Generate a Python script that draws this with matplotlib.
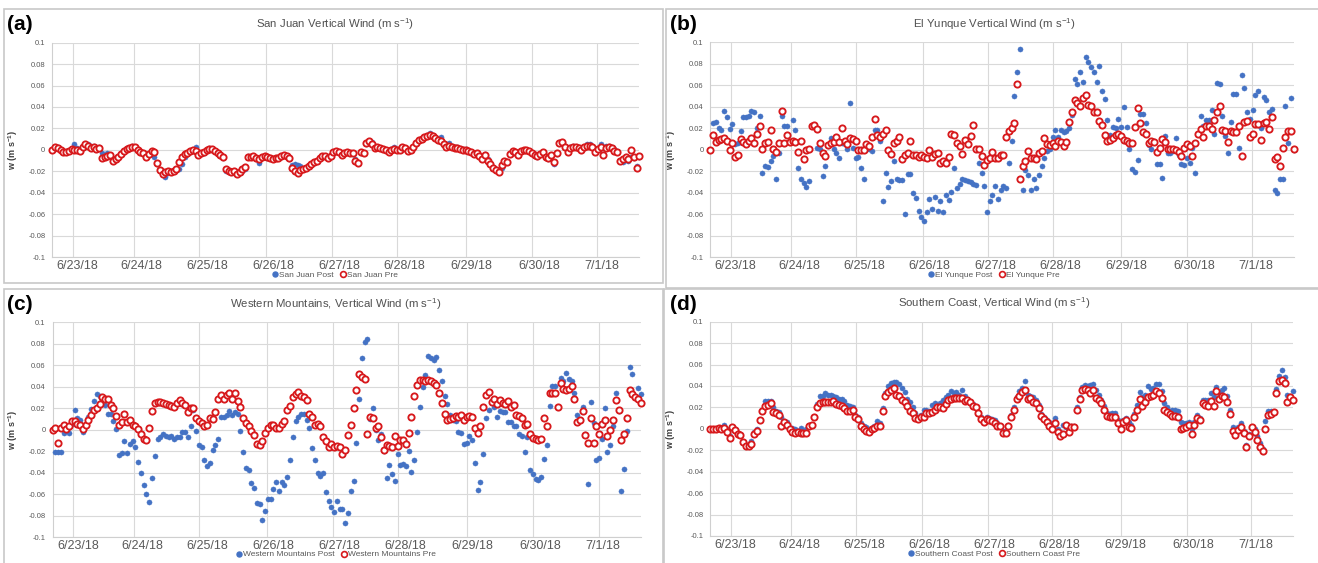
import numpy as np
import matplotlib
matplotlib.use('Agg')
import matplotlib.pyplot as plt
from matplotlib.patches import Rectangle
from matplotlib.lines import Line2D

plt.rcParams['font.family'] = ['Liberation Sans', 'DejaVu Sans']
plt.rcParams['mathtext.fontset'] = 'custom'
plt.rcParams['mathtext.rm'] = 'Liberation Sans'

W, H = 1318, 563

# hourly samples from 6/22/18 evening, values in mm/s (0.001 m/s)
date_labels = ['6/23/18', '6/24/18', '6/25/18', '6/26/18', '6/27/18',
               '6/28/18', '6/29/18', '6/30/18', '7/1/18']
day_start = [7.4, 29.5, 53.1, 77.5, 101.4, 125.0, 150.0, 174.2, 197.8]
label_at = [9.2, 32.4, 56.1, 80.1, 104.0, 127.6, 151.9, 176.6, 199.3]
y_ticks = [-0.1, -0.08, -0.06, -0.04, -0.02, 0, 0.02, 0.04, 0.06, 0.08, 0.1]
y_labels = ['-0.1', '-0.08', '-0.06', '-0.04', '-0.02', '0',
            '0.02', '0.04', '0.06', '0.08', '0.1']

san_juan_post = [
    0, 2, 3, 0, -1, -2, 0, 2,
    5, 2, 0, 2, 5, 5, 4, 4, 3, 3, -3, -5, -3, -5, -9, -8, -6, -3, 0, 2, 1, 4,
    3, 0, -2, -3, -6, -4, -1, -7, -13, -20, -22, -25, -22, -21, -20, -19, -18, -13, -7, -4, -2, 0, 3, -4,
    -4, -3, 0, 2, 1, -1, -4, -6, -8, -20, -21, -20, -22, -21, -22, -20, -18, -6, -7, -6, -9, -12, -8, -7,
    -8, -8, -9, -8, -8, -7, -5, -6, -9, -14, -13, -14, -15, -18, -17, -15, -13, -12, -10, -8, -7, -6, -8, -6,
    -3, -1, -2, -4, -3, -2, -3, -3, -9, -12, -3, -3, 5, 7, 7, 3, 3, 2, 1, 0, -1, 1, 3, 1,
    1, 3, 2, 0, 0, 3, 6, 9, 10, 12, 14, 16, 14, 12, 10, 12, 6, 4, 6, 4, 3, 3, 1, 1,
    1, -1, -2, -3, -3, -5, -7, -4, -9, -12, -16, -18, -20, -17, -12, -10, -4, -1, -2, -4, -1, 0, 0, -1,
    -3, -6, -7, -4, -3, -8, -9, -6, -13, -4, 7, 7, 4, -2, 3, 4, 3, 3, 1, 3, 5, 5, 4, -1,
    2, 5, -4, 4, 4, 3, 1, -1, -10, -11, -8, -10, -7, -8, -15, -7]
san_juan_pre = [
    0, 3, 2, 0, -2, -2, -1, 1,
    0, 0, -1, 3, 5, 4, 2, 3, 1, 2, -8, -7, -6, -5, -10, -9, -7, -4, -1, 1, 2, 3,
    3, 0, -2, -3, -7, -4, -1, -2, -12, -19, -23, -21, -20, -21, -20, -18, -11, -7, -4, -3, -1, 0, -1, -5,
    -3, -2, 0, 1, 1, -1, -3, -5, -7, -18, -20, -21, -20, -23, -21, -18, -16, -7, -7, -6, -8, -9, -7, -6,
    -7, -8, -9, -8, -8, -6, -5, -6, -8, -17, -20, -22, -19, -18, -17, -15, -13, -11, -10, -8, -6, -6, -8, -6,
    -2, -1, -2, -5, -3, -2, -3, -3, -10, -12, -2, -3, 6, 8, 5, 2, 3, 2, 1, 0, -2, 0, 1, 0,
    0, 3, 2, -1, 0, 3, 6, 9, 10, 12, 13, 14, 13, 11, 9, 8, 5, 3, 4, 3, 2, 2, 1, 0,
    0, -1, -2, -4, -3, -6, -9, -5, -10, -13, -17, -19, -21, -14, -10, -11, -4, -1, -2, -5, -1, 0, 0, -1,
    -3, -5, -6, -4, -2, -7, -8, -5, -11, -3, 6, 7, 3, -2, 2, 3, 3, 2, 0, 3, 4, 4, 3, -2,
    1, 3, -5, 2, 3, 2, -1, -2, -10, -9, -7, -9, 0, -7, -17, -6]

el_yunque_post = [
    0, 25, 26, 20, 18, 36, 30, 19, 24, 5,
    6, 17, 30, 30, 31, 36, 35, 20, 31, -22,
    -15, -16, -11, -6, -27, -3, 31, 22, 22, 8,
    28, 18, -17, -27, -31, -35, -29, 22, 22, 2,
    1, -25, -15, 3, 11, 1, -3, -8, 6, 5,
    1, 43, 2, -8, -7, -17, -27, 1, 1, -1,
    18, 18, 8, -48, -22, -35, -29, -11, -27, -28,
    -28, -60, -23, -23, -40, -45, -57, -63, -66, -58,
    -46, -55, -44, -57, -48, -58, -42, -47, -39, -17,
    -36, -32, -27, -28, -29, -30, -32, -33, -12, -22,
    -34, -58, -48, -42, -34, -46, -38, -34, -36, -12,
    8, 50, 72, 94, -38, -19, -24, -38, -27, -36,
    -24, -15, -8, -1, 1, 12, 18, 12, 18, 16,
    17, 20, 32, 66, 61, 72, 63, 86, 82, 77,
    72, 63, 78, 55, 47, 28, 14, 21, 20, 29,
    21, 40, 21, 1, -18, -21, -10, 33, 33, 25,
    4, 1, 8, -13, -13, -26, 13, -3, -3, -1,
    11, -5, -13, -14, -8, -12, 2, -22, 15, 31,
    22, 28, 28, 37, 15, 62, 61, 31, 13, -3,
    26, 52, 52, 2, 70, 57, 35, 29, 37, 51,
    55, 20, 49, 46, 35, 38, -38, -40, -27, -27,
    41, 6, 48, 0]
el_yunque_pre = [
    0, 14, 7, 9, 10, 11, 8, 0, 6, -7,
    -5, 10, 7, 5, 8, 11, 6, 15, 22, 1,
    6, 7, 18, 1, -2, 6, 36, 6, 14, 7,
    8, 7, -2, 8, -9, 0, 1, 22, 23, 19,
    6, -3, -6, 4, 6, 7, 12, 7, 20, 8,
    5, 11, 10, 8, 0, 0, 0, 5, 3, 12,
    29, 14, 12, 15, 18, 0, -4, 6, 8, 12,
    -9, -5, -3, 8, -5, -5, -7, -5, -7, -8,
    0, -7, -4, -3, -12, -11, -12, -7, 15, 14,
    6, 3, -4, 9, 5, 13, 23, 1, 1, -6,
    -14, -10, -8, -2, -8, -8, -5, -5, 12, 17,
    20, 25, 61, -27, -15, -11, -1, -8, -8, -9,
    -3, -1, 11, 5, 4, 6, 3, 8, 7, 3,
    7, 26, 35, 46, 43, 41, 48, 51, 42, 41,
    35, 35, 27, 23, 14, 8, 9, 11, 14, 15,
    13, 9, 8, 6, 6, 21, 39, 25, 16, 15,
    6, 8, 7, -2, 2, 10, 7, 1, 1, 1,
    0, -2, -6, 2, 5, 3, -6, 6, 15, 19,
    12, 22, 22, 19, 28, 35, 41, 18, 17, 7,
    17, 16, 16, 22, -6, 26, 27, 12, 15, 24,
    24, 9, 25, 26, 19, 30, -9, -7, -15, 2,
    12, 17, 17, 1]

western_post = [
    0, -21, -21, -21, -3, 1, -3, 5, 18, 11,
    9, -2, 3, 12, 19, 27, 33, 31, 28, 23,
    15, 15, 8, 1, -24, -22, -11, -22, -13, -11,
    -16, -30, -40, -52, -60, -67, -45, -25, -9, -7,
    -4, -6, -7, -6, -9, -7, -7, -2, -2, -7,
    3, 18, -1, -14, -16, -28, -34, -31, -19, -14,
    -9, 12, 12, 14, 17, 14, 16, 15, -1, -21,
    -36, -38, -50, -54, -68, -69, -84, -76, -65, -65,
    -55, -49, -57, -49, -52, -44, -28, -7, 8, 12,
    15, 15, 9, 2, -17, -28, -40, -43, -40, -58,
    -66, -72, -77, -66, -74, -74, -87, -78, -57, -48,
    -12, 29, 67, 82, 84, 10, 20, 0, -10, -4,
    -20, -45, -33, -41, -48, -23, -33, -32, -34, -20,
    -39, -28, -2, 21, 40, 51, 69, 67, 65, 68,
    56, 45, 31, 24, 14, 9, 8, -2, -3, -13,
    -12, -6, -10, -31, -56, -49, -23, 11, 18, 25,
    21, 12, 17, 16, 16, 7, 7, 3, 3, -4,
    -6, -21, -7, -38, -41, -46, -47, -44, -27, -14,
    22, 41, 41, 21, 48, 45, 53, 47, 45, 34,
    14, 9, 21, -4, -51, 26, 6, -28, -26, -9,
    20, -21, -14, 3, 34, 17, -57, -37, -1, 58,
    52, 30, 39, 33]
western_pre = [
    0, 2, -12, 2, 4, 1, 3, 8, 8, 5,
    4, 1, 4, 9, 14, 18, 20, 24, 30, 29,
    29, 23, 20, 13, 4, 7, 15, 7, 9, 4,
    3, 1, -4, -9, -10, 2, 17, 25, 26, 26,
    25, 24, 23, 22, 21, 25, 28, 25, 23, 16,
    20, 20, 11, 8, 6, 3, 4, 11, 10, 16,
    29, 32, 29, 32, 34, 29, 34, 27, 21, 11,
    6, 3, -1, -5, -13, -14, -11, -3, 2, 4,
    4, 2, 2, 5, 8, 18, 22, 30, 33, 35,
    31, 30, 28, 15, 12, 4, 5, 3, -7, -11,
    -16, -13, -16, -15, -16, -23, -19, -5, 4, 20,
    37, 52, 49, 47, -4, 12, 11, 2, 3, -7,
    -19, -14, -15, -16, -6, -15, -10, -10, -13, -3,
    12, 31, 42, 46, 46, 45, 46, 45, 43, 42,
    34, 25, 15, 9, 10, 11, 13, 12, 14, 9,
    12, 13, 12, 2, -3, 3, 21, 32, 35, 26,
    29, 24, 28, 25, 24, 27, 21, 23, 14, 13,
    11, 4, 5, -4, -8, -9, -10, -9, 11, 3,
    34, 34, 34, 21, 43, 38, 37, 38, 41, 29,
    7, 9, 17, -5, -12, 11, -12, 3, -4, 5,
    9, -6, 0, 9, 28, 18, -10, -4, 11, 37,
    33, 30, 29, 25]

southern_post = [
    0, 0, 0, 1, 0, 4, 0, -7, 2, 0, -4,
    -5, -12, -15, -15, -11, -3, 0, 8, 18, 26,
    26, 26, 20, 17, 16, 11, 7, 6, 1, 1,
    0, -2, 1, -2, 0, 4, 4, 11, 23, 31,
    31, 33, 32, 32, 31, 30, 28, 28, 26, 22,
    21, 20, 13, 11, 5, 3, 2, 0, 1, 3,
    7, 5, 19, 33, 40, 43, 44, 44, 42, 38,
    34, 28, 25, 20, 15, 11, 13, 18, 18, 17,
    22, 24, 22, 24, 27, 30, 32, 35, 33, 34,
    32, 36, 31, 28, 26, 23, 20, 16, 11, 8,
    11, 10, 9, 8, 5, 2, -2, -2, 4, 13,
    20, 30, 35, 38, 45, 32, 31, 30, 27, 22,
    14, 11, 8, 6, 3, 10, 0, -3, 4, 2,
    1, 3, 3, 20, 30, 39, 41, 40, 41, 42,
    36, 32, 27, 21, 15, 14, 15, 15, 8, 4,
    8, 10, 6, 4, 14, 22, 34, 30, 32, 40,
    37, 38, 42, 42, 35, 24, 20, 17, 18, 18,
    17, 6, 5, 5, 6, 0, 6, 13, 10, 27,
    27, 27, 33, 30, 39, 33, 36, 38, 31, 18,
    2, -3, 2, 5, -2, -15, -5, 2, 0, -7,
    -13, -19, 7, 17, 17, 16, 37, 49, 55, 48,
    32, 31, 35]
southern_pre = [
    0, 0, 0, 1, 0, 1, -3, -9, 2, -1, -5,
    -6, -12, -16, -16, -14, -5, -2, 8, 17, 21,
    22, 24, 16, 15, 13, 3, 6, 4, 0, -3,
    -4, -3, -4, -4, -4, 3, 4, 11, 20, 24,
    25, 25, 25, 25, 26, 23, 22, 21, 19, 17,
    17, 18, 11, 9, 3, 0, -2, -3, 0, 1,
    3, 3, 17, 31, 34, 36, 38, 32, 31, 27,
    25, 21, 17, 15, 10, 9, 11, 11, 15, 15,
    16, 18, 20, 20, 19, 23, 27, 28, 29, 29,
    29, 29, 26, 27, 25, 21, 20, 15, 9, 6,
    9, 8, 7, 5, 3, 3, -4, -4, 3, 11,
    18, 28, 31, 34, 36, 28, 29, 25, 24, 19,
    12, 9, 6, 3, 0, 5, -3, -7, -5, 4,
    -3, 2, 2, 18, 28, 36, 37, 36, 33, 36,
    29, 27, 24, 18, 12, 11, 11, 11, 5, 0,
    6, 8, 2, 1, 11, 18, 28, 21, 25, 30,
    31, 32, 35, 33, 29, 18, 16, 14, 12, 12,
    11, 0, 1, 2, 4, -5, 4, 10, 8, 24,
    22, 21, 26, 21, 35, 28, 31, 30, 25, 14,
    -2, -6, -1, 2, -4, -17, -7, 2, -3, -10,
    -17, -21, 0, 13, 14, 16, 33, 45, 46, 43,
    25, 30, 27]

BLUE = '#4472C4'
RED = '#D7191C'
GRID = '#D9D9D9'
TXT = '#595959'


def fig_box(l, t, r, b):
    return [l / W, 1 - b / H, (r - l) / W, (b - t) / H]


panels = [
    dict(post=san_juan_post, pre=san_juan_pre, name='San Juan',
         title='San Juan Vertical Wind (m s$^{\\mathregular{-1}}$)', tag='(a)',
         ax=(52.3, 42.7, 639.3, 257.0), cx=335, ty=24.5, ly=275, tagxy=(7, 24.5),
         box=(4, 9, 663, 283)),
    dict(post=el_yunque_post, pre=el_yunque_pre, name='El Yunque',
         title='El Yunque Vertical Wind (m s$^{\\mathregular{-1}}$)', tag='(b)',
         ax=(710.4, 42.3, 1293.7, 257.0), cx=994, ty=24.5, ly=275, tagxy=(670, 24),
         box=(666, 9, 1322, 288)),
    dict(post=western_post, pre=western_pre, name='Western Mountains',
         title='Western Mountains, Vertical Wind (m s$^{\\mathregular{-1}}$)', tag='(c)',
         ax=(52.6, 322.3, 640.6, 537.0), cx=336, ty=304, ly=554.5, tagxy=(7, 304),
         box=(4, 289, 663, 567)),
    dict(post=southern_post, pre=southern_pre, name='Southern Coast',
         title='Southern Coast, Vertical Wind (m s$^{\\mathregular{-1}}$)', tag='(d)',
         ax=(710.4, 321.7, 1292.8, 536.0), cx=994, ty=303.5, ly=554, tagxy=(670, 304),
         box=(664, 289, 1322, 567)),
]

fig = plt.figure(figsize=(W / 100, H / 100), dpi=100)
fig.patch.set_facecolor('white')

for p in panels:
    l, t, r, b = p['box']
    fig.add_artist(Rectangle((l / W, 1 - b / H), (r - l) / W, (b - t) / H,
                             transform=fig.transFigure, fill=False,
                             edgecolor='#C8C8C8', linewidth=1.2))

    ax = fig.add_axes(fig_box(*p['ax']))
    post = np.array(p['post']) / 1000.0
    pre = np.array(p['pre']) / 1000.0
    ax.plot(np.arange(len(post)), post, 'o', ms=3.7, color=BLUE, mec=BLUE,
            mew=0.3, clip_on=False, zorder=3)
    ax.plot(np.arange(len(pre)), pre, 'o', ms=4.5, mfc='white', mec=RED,
            mew=1.35, clip_on=False, zorder=4)

    ax.set_xlim(0, 213)
    ax.set_ylim(-0.1, 0.1)
    ax.set_yticks(y_ticks)
    ax.set_yticklabels(y_labels)
    ax.set_xticks(day_start)
    ax.set_xticklabels([''] * len(day_start))
    ax.set_xticks(label_at, minor=True)
    ax.set_xticklabels(date_labels, minor=True)
    ax.tick_params(axis='both', which='both', length=0)
    ax.tick_params(axis='y', labelsize=5.5, labelcolor=TXT, pad=5)
    ax.tick_params(axis='x', which='minor', labelsize=9, labelcolor=TXT, pad=2)
    ax.grid(True, which='major', color=GRID, linewidth=0.8)
    ax.set_axisbelow(True)
    for s in ['top', 'right']:
        ax.spines[s].set_visible(False)
    for s in ['left', 'bottom']:
        ax.spines[s].set_color('#CFCFCF')
        ax.spines[s].set_linewidth(0.8)

    ax.set_ylabel('w (m s$^{\\mathregular{-1}}$)', fontsize=6.5, fontweight='bold',
                  color='#404040', labelpad=6)

    fig.text(p['cx'] / W, 1 - p['ty'] / H, p['title'], ha='center', va='center',
             fontsize=8.2, color='#505050')
    fig.text(p['tagxy'][0] / W, 1 - p['tagxy'][1] / H, p['tag'], ha='left',
             va='center', fontsize=15, fontweight='bold', color='black')

    handles = [Line2D([], [], ls='none', marker='o', ms=3.6, color=BLUE),
               Line2D([], [], ls='none', marker='o', ms=4.2, mfc='white',
                      mec=RED, mew=1.2)]
    ax.legend(handles, [p['name'] + ' Post', p['name'] + ' Pre'], loc='center',
              bbox_to_anchor=(p['cx'] / W, 1 - p['ly'] / H),
              bbox_transform=fig.transFigure, ncol=2, frameon=False,
              fontsize=6, handlelength=0.6, handletextpad=0.2,
              columnspacing=0.8, borderpad=0, labelcolor=TXT)

fig.savefig('out.png', dpi=100)
